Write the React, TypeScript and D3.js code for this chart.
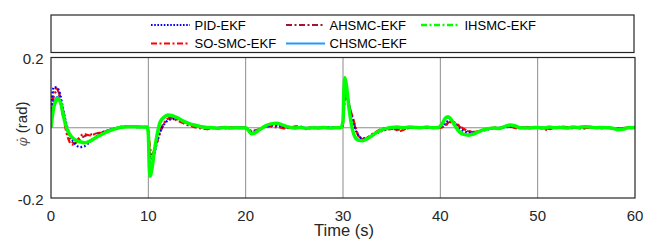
import React from "react";
import * as d3 from "d3";

type P = [number, number];

const xTicks = [0, 10, 20, 30, 40, 50, 60];
const yTicks = [-0.2, 0, 0.2];
const yTickLabels = ["-0.2", "0", "0.2"];

const pidEkf: P[] = [
  [0, 0], [0.15, 0.1], [0.3, 0.116], [0.6, 0.114], [0.9, 0.1], [1.2, 0.06], [1.5, 0.02], [1.8, -0.01], [2.2, -0.035], [2.6, -0.05], [3.0, -0.055], [3.4, -0.053], [3.8, -0.045], [4.3, -0.033], [4.8, -0.022], [5.3, -0.014], [5.8, -0.008], [6.3, -0.004], [6.8, 0.0], [7.3, 0.003], [7.8, 0.003], [8.3, 0.003], [8.8, 0.002], [9.3, 0.002], [9.9, 0.002],
  [10.0, -0.02], [10.1, -0.08], [10.25, -0.11], [10.4, -0.1], [10.7, -0.065], [11.0, -0.03], [11.4, 0.0], [11.8, 0.016], [12.3, 0.024], [12.8, 0.025], [13.4, 0.021], [14.0, 0.014], [14.6, 0.008], [15.2, 0.004], [15.8, 0.002], [16.4, 0.0], [17.0, -0.001], [17.6, 0.001], [18.2, -0.001], [18.8, 0.0], [19.4, 0.001], [20.0, 0.0],
  [20.3, -0.006], [20.6, -0.012], [21.0, -0.01], [21.6, -0.002], [22.2, 0.004], [22.8, 0.007], [23.4, 0.006], [24.0, 0.002], [24.6, 0.0], [25.2, -0.001], [25.8, 0.001], [26.4, -0.002], [27.0, 0.0], [27.6, -0.001], [28.2, 0.0], [28.8, 0.001], [29.4, 0.0], [29.9, 0.0],
  [30.0, 0.02], [30.1, 0.09], [30.2, 0.12], [30.35, 0.105], [30.6, 0.07], [30.9, 0.03], [31.2, 0.0], [31.6, -0.022], [32.0, -0.03], [32.5, -0.029], [33.0, -0.022], [33.5, -0.015], [34.0, -0.009], [34.6, -0.004], [35.2, -0.001], [35.8, 0.001], [36.4, 0.0], [37.0, 0.002], [37.6, 0.001], [38.2, 0.0], [38.8, 0.001], [39.4, 0.0], [39.9, 0.0],
  [40.3, 0.008], [40.7, 0.018], [41.0, 0.02], [41.4, 0.013], [41.8, 0.002], [42.3, -0.008], [42.8, -0.013], [43.3, -0.014], [43.8, -0.012], [44.4, -0.008], [45.0, -0.004], [45.6, -0.002], [46.2, 0.0], [46.8, 0.002], [47.4, 0.003], [48.0, 0.001], [48.6, 0.0], [49.2, -0.001], [49.8, 0.0], [50.4, 0.001], [51.0, -0.001], [51.6, 0.0], [52.2, 0.002], [52.8, 0.0], [53.4, -0.001], [54.0, 0.001], [54.6, 0.002], [55.2, 0.003], [55.8, 0.001], [56.4, 0.0], [57.0, 0.001], [57.6, -0.001], [58.2, -0.003], [58.8, -0.002], [59.4, 0.0], [60, 0.0],
];

const soSmcEkf: P[] = [
  [0, 0], [0.15, 0.08], [0.35, 0.108], [0.55, 0.112], [0.8, 0.098], [1.0, 0.07], [1.3, 0.025], [1.6, -0.015], [1.9, -0.04], [2.2, -0.048], [2.5, -0.044], [2.8, -0.032], [3.1, -0.022], [3.4, -0.018], [3.7, -0.02], [4.0, -0.022], [4.3, -0.02], [4.6, -0.017], [5.0, -0.016], [5.4, -0.012], [5.8, -0.009], [6.2, -0.005], [6.6, -0.003], [7.0, 0.0], [7.4, 0.002], [7.8, 0.004], [8.2, 0.002], [8.6, 0.004], [9.0, 0.003], [9.4, 0.002], [9.9, 0.003],
  [10.0, -0.01], [10.15, -0.05], [10.35, -0.075], [10.6, -0.065], [10.9, -0.04], [11.2, -0.015], [11.5, 0.005], [11.8, 0.02], [12.1, 0.027], [12.5, 0.026], [13.0, 0.02], [13.5, 0.014], [14.0, 0.008], [14.5, 0.004], [15.0, 0.0], [15.5, -0.002], [16.0, -0.004], [16.5, -0.001], [17.0, -0.003], [17.5, 0.001], [18.0, -0.002], [18.5, 0.002], [19.0, -0.001], [19.5, 0.001], [20.0, 0.0],
  [20.3, -0.004], [20.6, -0.009], [21.0, -0.007], [21.5, -0.003], [22.0, 0.002], [22.5, 0.004], [23.0, 0.002], [23.5, 0.001], [24.0, -0.002], [24.5, 0.0], [25.0, 0.003], [25.4, 0.005], [25.8, 0.002], [26.3, -0.001], [26.8, 0.001], [27.3, -0.002], [27.8, 0.0], [28.3, 0.002], [28.8, -0.001], [29.4, 0.001], [29.9, 0.0],
  [30.0, 0.01], [30.1, 0.05], [30.25, 0.085], [30.45, 0.08], [30.7, 0.055], [31.0, 0.03], [31.3, 0.0], [31.6, -0.025], [31.9, -0.035], [32.3, -0.032], [32.7, -0.024], [33.1, -0.016], [33.5, -0.01], [33.9, -0.004], [34.3, -0.002], [34.7, -0.004], [35.1, -0.003], [35.5, -0.006], [35.9, -0.009], [36.3, -0.005], [36.7, -0.001], [37.2, 0.002], [37.7, 0.0], [38.2, 0.002], [38.7, 0.0], [39.2, 0.001], [39.7, -0.001], [40.0, 0.0],
  [40.4, 0.004], [40.8, 0.012], [41.2, 0.017], [41.6, 0.013], [42.0, 0.005], [42.4, -0.003], [42.8, -0.008], [43.2, -0.011], [43.6, -0.012], [44.0, -0.009], [44.5, -0.005], [45.0, -0.002], [45.5, 0.001], [46.0, -0.001], [46.5, 0.002], [47.0, 0.004], [47.5, 0.001], [48.0, -0.002], [48.5, 0.0], [49.0, 0.002], [49.5, -0.001], [50.0, 0.001], [50.5, -0.003], [51.0, -0.006], [51.5, -0.002], [52.0, 0.001], [52.5, 0.003], [53.0, 0.002], [53.5, -0.001], [54.0, 0.0], [54.5, -0.003], [55.0, -0.001], [55.5, 0.002], [56.0, 0.0], [56.5, -0.002], [57.0, 0.001], [57.5, -0.001], [58.0, -0.003], [58.5, -0.004], [59.0, -0.001], [59.5, 0.001], [60, -0.001],
];

const ahsmcEkf: P[] = [
  [0, 0], [0.2, 0.075], [0.45, 0.1], [0.7, 0.104], [0.95, 0.088], [1.2, 0.055], [1.5, 0.015], [1.8, -0.02], [2.1, -0.038], [2.4, -0.044], [2.8, -0.038], [3.2, -0.028], [3.6, -0.022], [4.0, -0.02], [4.5, -0.017], [5.0, -0.014], [5.5, -0.01], [6.0, -0.006], [6.5, -0.003], [7.0, 0.0], [7.5, 0.002], [8.0, 0.003], [9.0, 0.002], [9.9, 0.002],
  [10.0, -0.015], [10.15, -0.065], [10.3, -0.09], [10.5, -0.08], [10.8, -0.05], [11.1, -0.02], [11.4, 0.004], [11.8, 0.02], [12.2, 0.028], [12.7, 0.026], [13.2, 0.02], [13.8, 0.013], [14.4, 0.007], [15.0, 0.002], [15.6, -0.001], [16.2, -0.002], [17.0, 0.0], [18.0, -0.001], [19.0, 0.001], [20.0, 0.0],
  [20.3, -0.005], [20.6, -0.011], [21.0, -0.009], [21.6, -0.002], [22.2, 0.004], [22.8, 0.006], [23.4, 0.004], [24.0, 0.0], [25.0, 0.001], [26.0, -0.001], [27.0, 0.001], [28.0, 0.0], [29.0, 0.001], [29.9, 0.0],
  [30.0, 0.015], [30.1, 0.07], [30.25, 0.1], [30.45, 0.09], [30.7, 0.06], [31.0, 0.028], [31.3, -0.002], [31.7, -0.026], [32.1, -0.033], [32.5, -0.03], [33.0, -0.022], [33.5, -0.014], [34.0, -0.007], [34.6, -0.004], [35.2, -0.004], [35.8, -0.006], [36.4, -0.003], [37.0, 0.001], [38.0, 0.001], [39.0, 0.0], [40.0, 0.0],
  [40.4, 0.006], [40.8, 0.014], [41.2, 0.018], [41.6, 0.012], [42.0, 0.003], [42.5, -0.006], [43.0, -0.011], [43.5, -0.012], [44.0, -0.009], [44.6, -0.005], [45.2, -0.002], [46.0, 0.0], [47.0, 0.003], [48.0, 0.0], [49.0, 0.001], [50.0, 0.0], [51.0, -0.003], [52.0, 0.001], [53.0, 0.001], [54.0, 0.0], [55.0, -0.001], [56.0, 0.001], [57.0, 0.0], [58.0, -0.002], [59.0, 0.0], [60, 0.0],
];

const ihsmcEkf: P[] = [
  [0, 0], [0.3, 0.06], [0.7, 0.082], [1.0, 0.07], [1.3, 0.03], [1.6, 0.0], [2.0, -0.022], [2.5, -0.035], [3.0, -0.04], [3.5, -0.043], [4.0, -0.038], [4.5, -0.03], [5.0, -0.022], [5.5, -0.015], [6.0, -0.009], [6.5, -0.004], [7.0, 0.0], [7.5, 0.002], [8.0, 0.003], [8.5, 0.003], [9.0, 0.002], [9.5, 0.002], [9.9, 0.002],
  [10.0, -0.02], [10.1, -0.11], [10.2, -0.138], [10.35, -0.12], [10.6, -0.07], [10.9, -0.02], [11.2, 0.015], [11.6, 0.03], [12.0, 0.036], [12.4, 0.035], [13.0, 0.028], [13.6, 0.019], [14.2, 0.012], [14.8, 0.007], [15.4, 0.003], [16.0, 0.001], [16.6, 0.0], [17.2, -0.002], [17.8, 0.001], [18.4, -0.001], [19.0, 0.0], [19.6, -0.001], [20.0, 0.0],
  [20.3, -0.008], [20.6, -0.017], [20.9, -0.015], [21.4, -0.006], [22.0, 0.005], [22.6, 0.011], [23.2, 0.013], [23.7, 0.009], [24.3, 0.003], [25.0, -0.001], [25.6, 0.001], [26.2, -0.002], [26.8, 0.0], [27.4, -0.001], [28.0, 0.001], [28.6, -0.001], [29.2, 0.0], [29.8, 0.0],
  [30.0, 0.02], [30.1, 0.11], [30.2, 0.142], [30.35, 0.12], [30.6, 0.06], [30.9, 0.005], [31.2, -0.025], [31.6, -0.036], [32.0, -0.037], [32.5, -0.031], [33.0, -0.022], [33.5, -0.013], [34.0, -0.006], [34.5, -0.002], [35.0, 0.001], [35.6, 0.002], [36.2, 0.0], [36.8, 0.002], [37.4, 0.001], [38.0, 0.0], [38.6, 0.002], [39.2, 0.0], [39.8, 0.001],
  [40.2, 0.012], [40.5, 0.027], [40.8, 0.031], [41.1, 0.024], [41.5, 0.006], [41.9, -0.01], [42.4, -0.019], [42.9, -0.021], [43.4, -0.018], [43.9, -0.012], [44.4, -0.006], [44.9, -0.003], [45.4, -0.001], [46.0, -0.002], [46.6, 0.003], [47.2, 0.008], [47.7, 0.005], [48.2, 0.0], [48.8, -0.001], [49.4, 0.0], [50.0, 0.001], [50.6, -0.001], [51.2, 0.002], [51.8, 0.0], [52.4, 0.001], [53.0, -0.001], [53.6, 0.002], [54.2, 0.001], [54.8, 0.003], [55.4, 0.002], [56.0, 0.0], [56.6, 0.001], [57.2, 0.0], [57.8, -0.002], [58.3, -0.006], [58.8, -0.004], [59.3, 0.0], [60, 0.001],
];

const chsmcEkf: P[] = [
  [0, 0], [0.3, 0.065], [0.65, 0.088], [0.95, 0.075], [1.25, 0.035], [1.55, 0.002], [2.0, -0.022], [2.5, -0.034], [3.0, -0.04], [3.5, -0.042], [4.0, -0.037], [4.5, -0.029], [5.0, -0.021], [5.5, -0.014], [6.0, -0.008], [6.5, -0.004], [7.0, 0.0], [7.5, 0.002], [8.0, 0.003], [9.0, 0.002], [9.9, 0.002],
  [10.0, -0.02], [10.1, -0.1], [10.2, -0.13], [10.35, -0.115], [10.6, -0.068], [10.9, -0.02], [11.2, 0.013], [11.6, 0.028], [12.0, 0.034], [12.4, 0.033], [13.0, 0.027], [13.6, 0.018], [14.2, 0.011], [14.8, 0.006], [15.4, 0.003], [16.0, 0.001], [17.0, 0.0], [18.0, 0.0], [19.0, 0.0], [20.0, 0.0],
  [20.3, -0.008], [20.6, -0.016], [20.9, -0.014], [21.4, -0.006], [22.0, 0.004], [22.6, 0.01], [23.2, 0.012], [23.7, 0.008], [24.3, 0.003], [25.0, 0.0], [26.0, 0.0], [27.0, 0.0], [28.0, 0.001], [29.0, 0.0], [29.8, 0.0],
  [30.0, 0.02], [30.1, 0.105], [30.2, 0.135], [30.35, 0.115], [30.6, 0.058], [30.9, 0.006], [31.2, -0.023], [31.6, -0.034], [32.0, -0.035], [32.5, -0.03], [33.0, -0.021], [33.5, -0.012], [34.0, -0.006], [34.5, -0.002], [35.0, 0.001], [36.0, 0.001], [37.0, 0.001], [38.0, 0.001], [39.0, 0.001], [39.8, 0.001],
  [40.2, 0.011], [40.5, 0.025], [40.8, 0.029], [41.1, 0.023], [41.5, 0.006], [41.9, -0.009], [42.4, -0.018], [42.9, -0.02], [43.4, -0.017], [43.9, -0.011], [44.4, -0.006], [44.9, -0.003], [45.4, -0.001], [46.0, 0.0], [47.0, 0.005], [48.0, 0.001], [49.0, 0.0], [50.0, 0.001], [51.0, 0.0], [52.0, 0.001], [53.0, 0.0], [54.0, 0.001], [55.0, 0.002], [56.0, 0.001], [57.0, 0.0], [58.0, -0.003], [59.0, -0.001], [60, 0.0],
];

interface Style { color: string; width: number; dash: string; plotWidth: number; plotDash: string; }
const styles: Record<string, Style> = {
  "PID-EKF": { color: "#0000FF", width: 2, dash: "1.6 1.6", plotWidth: 2.2, plotDash: "1.8 2" },
  "SO-SMC-EKF": { color: "#FF0000", width: 2, dash: "6 2.5 2 2.5", plotWidth: 2.2, plotDash: "6 2.5 2 2.5" },
  "AHSMC-EKF": { color: "#A2142F", width: 2, dash: "6 2.5 2 2.5", plotWidth: 2, plotDash: "6 2.5 2 2.5" },
  "IHSMC-EKF": { color: "#00FF00", width: 2.5, dash: "6 2.5 2 2.5", plotWidth: 3.5, plotDash: "none" },
  "CHSMC-EKF": { color: "#1E9BFF", width: 2, dash: "none", plotWidth: 2, plotDash: "none" },
};

const dataByName: Record<string, P[]> = {
  "PID-EKF": pidEkf,
  "SO-SMC-EKF": soSmcEkf,
  "AHSMC-EKF": ahsmcEkf,
  "IHSMC-EKF": ihsmcEkf,
  "CHSMC-EKF": chsmcEkf,
};

const drawOrder = ["CHSMC-EKF", "AHSMC-EKF", "SO-SMC-EKF", "PID-EKF", "IHSMC-EKF"];

const W = 646, H = 242;
const plot = { left: 51, right: 635, top: 57.5, bottom: 198 };
const legendBox = { x: 51, y: 15, w: 583, h: 37.5 };
const legendItems = [
  { name: "PID-EKF", x: 151, y: 25 },
  { name: "AHSMC-EKF", x: 286, y: 25 },
  { name: "IHSMC-EKF", x: 421, y: 25 },
  { name: "SO-SMC-EKF", x: 151, y: 43.5 },
  { name: "CHSMC-EKF", x: 286, y: 43.5 },
];

const font = "'Liberation Sans', Arial, Helvetica, sans-serif";

export default function App() {
  const x = d3.scaleLinear().domain([0, 60]).range([plot.left, plot.right]);
  const y = d3.scaleLinear().domain([-0.2, 0.2]).range([plot.bottom, plot.top]);
  const line = d3.line<P>().x((d) => x(d[0])).y((d) => y(d[1])).curve(d3.curveMonotoneX);

  return (
    <svg width={W} height={H} style={{ position: "absolute", left: 0, top: 0, background: "#fff" }} fontFamily={font}>
      <rect x={0} y={0} width={W} height={H} fill="#fff" />
      <defs>
        <clipPath id="clip">
          <rect x={plot.left} y={plot.top} width={plot.right - plot.left} height={plot.bottom - plot.top} />
        </clipPath>
      </defs>
      {xTicks.filter((t) => t > 0 && t < 60).map((t) => (
        <line key={"gx" + t} x1={x(t)} x2={x(t)} y1={plot.top} y2={plot.bottom} stroke="#8c8c8c" strokeWidth={1} />
      ))}
      <line x1={plot.left} x2={plot.right} y1={y(0)} y2={y(0)} stroke="#8c8c8c" strokeWidth={1} />
      <g clipPath="url(#clip)">
        {drawOrder.map((n) => (
          <path key={n} d={line(dataByName[n]) || ""} fill="none" stroke={styles[n].color}
            strokeWidth={styles[n].plotWidth} strokeDasharray={styles[n].plotDash}
            strokeLinejoin="round" />
        ))}
      </g>
      <rect x={plot.left} y={plot.top} width={plot.right - plot.left} height={plot.bottom - plot.top} fill="none" stroke="#262626" strokeWidth={1.2} />
      {xTicks.map((t) => (
        <text key={"xt" + t} x={x(t)} y={220.5} textAnchor="middle" fontSize={15} fill="#262626">{t}</text>
      ))}
      {yTicks.map((t, i) => (
        <text key={"yt" + t} x={43.5} y={y(t) + 6.5} textAnchor="end" fontSize={15} fill="#262626">{yTickLabels[i]}</text>
      ))}
      <text x={(plot.left + plot.right) / 2 + 1} y={235.5} textAnchor="middle" fontSize={16.5} fill="#262626">Time (s)</text>
      <text transform={`translate(27,${124}) rotate(-90)`} textAnchor="middle" fontSize={15} fill="#262626">
        <tspan fontStyle="italic" fontFamily="'DejaVu Serif', serif" fontSize={13} fill="#555">φ̇</tspan>
        <tspan> (rad)</tspan>
      </text>
      <rect x={legendBox.x} y={legendBox.y} width={legendBox.w} height={legendBox.h} fill="#fff" stroke="#262626" strokeWidth={1.2} />
      {legendItems.map((it) => (
        <g key={it.name}>
          <line x1={it.x} x2={it.x + 39} y1={it.y} y2={it.y} stroke={styles[it.name].color}
            strokeWidth={styles[it.name].width} strokeDasharray={styles[it.name].dash} />
          <text x={it.x + 43.5} y={it.y + 4.7} fontSize={13} fill="#000">{it.name}</text>
        </g>
      ))}
    </svg>
  );
}
